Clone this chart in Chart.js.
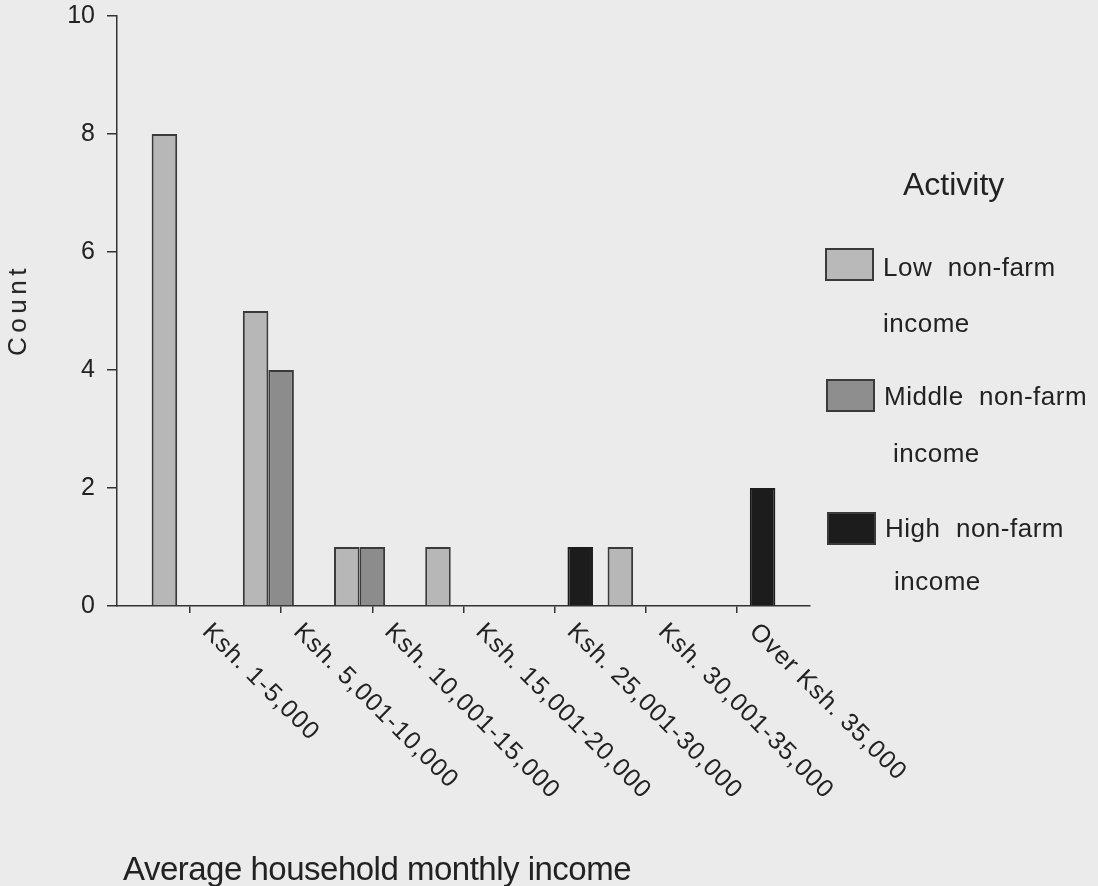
<!DOCTYPE html>
<html>
<head>
<meta charset="utf-8">
<title>Average household monthly income by activity</title>
<script src="https://cdn.jsdelivr.net/npm/chart.js@4.4.1/dist/chart.umd.min.js"></script>
<style>
    html, body { margin: 0; padding: 0; background: #ebebeb; }
    body {
        width: 1098px; height: 886px; position: relative; overflow: hidden;
        font-family: "Liberation Sans", Arial, sans-serif; color: #222;
    }
    #chartCanvas { position: absolute; left: 0; top: 0; }
    .txt { position: absolute; white-space: pre; line-height: 1; }
    .swatch { position: absolute; width: 49px; height: 33px; border: 2px solid #3a3a3a; box-sizing: border-box; }
    #yTitle {
        left: 17px; top: 310px; font-size: 26px; letter-spacing: 4.5px;
        transform: translate(-50%, -50%) rotate(-90deg);
    }
    #xTitle { left: 123px; top: 852px; font-size: 33px; letter-spacing: -0.5px; }
    #legendTitle { left: 903px; top: 168px; font-size: 32px; }
    .legend-label { font-size: 26px; letter-spacing: 0.5px; }
</style>
</head>
<body>
<canvas id="chartCanvas" width="1098" height="886"></canvas>

<div class="txt" id="yTitle">Count</div>
<div class="txt" id="xTitle">Average household monthly income</div>

<div class="txt" id="legendTitle">Activity</div>
<div class="swatch" style="left:825px; top:248px; background:#b9b9b9;"></div>
<div class="txt legend-label" style="left:883px; top:254px;">Low  non-farm</div>
<div class="txt legend-label" style="left:883px; top:310px;">income</div>
<div class="swatch" style="left:826px; top:379px; background:#8e8e8e;"></div>
<div class="txt legend-label" style="left:884px; top:383px;">Middle  non-farm</div>
<div class="txt legend-label" style="left:893px; top:440px;">income</div>
<div class="swatch" style="left:827px; top:512px; background:#1c1c1c;"></div>
<div class="txt legend-label" style="left:885px; top:515px;">High  non-farm</div>
<div class="txt legend-label" style="left:894px; top:568px;">income</div>

<script>
// Income bands on the x axis
const categories = [
    'Ksh. 1-5,000',
    'Ksh. 5,001-10,000',
    'Ksh. 10,001-15,000',
    'Ksh. 15,001-20,000',
    'Ksh. 25,001-30,000',
    'Ksh. 30,001-35,000',
    'Over Ksh. 35,000'
];

// Counts per activity group (null = no bar)
const lowNonFarm    = [8, 5, 1, 1, null, 1, null];
const middleNonFarm = [null, 4, 1, null, null, null, null];
const highNonFarm   = [null, null, null, null, 1, null, 2];

const yTicks = [0, 2, 4, 6, 8, 10];

function toPoints(values) {
    return values.map((v, i) => ({ x: i, y: v }));
}

// Slanted category labels, reading down to the right from each tick
const slantedLabels = {
    id: 'slantedLabels',
    afterDraw(chart) {
        const ctx = chart.ctx;
        const xScale = chart.scales.x;
        const base = chart.chartArea.bottom;
        ctx.save();
        ctx.font = '25px "Liberation Sans", Arial, sans-serif';
        ctx.fillStyle = '#222';
        ctx.textAlign = 'left';
        ctx.textBaseline = 'top';
        if ('letterSpacing' in ctx) ctx.letterSpacing = '1px';
        categories.forEach((label, i) => {
            const x = xScale.getPixelForValue(i);
            ctx.save();
            ctx.translate(x + 25, base + 13);
            ctx.rotate(Math.PI / 4);
            ctx.fillText(label, 0, 0);
            ctx.restore();
        });
        ctx.restore();
    }
};

const ctx = document.getElementById('chartCanvas').getContext('2d');
const chart = new Chart(ctx, {
    type: 'bar',
    data: {
        datasets: [{
            label: 'Low non-farm income',
            data: toPoints(lowNonFarm),
            backgroundColor: '#b7b7b7',
            borderColor: '#3a3a3a',
            borderWidth: 2
        }, {
            label: 'Middle non-farm income',
            data: toPoints(middleNonFarm),
            backgroundColor: '#8c8c8c',
            borderColor: '#3a3a3a',
            borderWidth: 2
        }, {
            label: 'High non-farm income',
            data: toPoints(highNonFarm),
            backgroundColor: '#1c1c1c',
            borderColor: '#1c1c1c',
            borderWidth: 2
        }]
    },
    options: {
        responsive: false,
        animation: false,
        devicePixelRatio: 1,
        categoryPercentage: 0.84,
        barPercentage: 1.0,
        layout: {
            padding: { top: 16, right: 288, bottom: 0, left: 0 }
        },
        plugins: {
            legend: { display: false },
            tooltip: { enabled: false }
        },
        scales: {
            x: {
                type: 'linear',
                min: -0.8,
                max: 6.8,
                offset: false,
                afterBuildTicks: function(scale) {
                    scale.ticks = categories.map((c, i) => ({ value: i }));
                },
                afterFit: function(scale) {
                    scale.height = 280;
                },
                ticks: { display: false },
                grid: {
                    offset: false,
                    drawOnChartArea: false,
                    drawTicks: true,
                    tickLength: 7,
                    color: '#333',
                    lineWidth: 1.5
                },
                border: { display: true, color: '#333', width: 1.5 }
            },
            y: {
                min: 0,
                max: 10,
                afterBuildTicks: function(scale) {
                    scale.ticks = yTicks.map(v => ({ value: v }));
                },
                afterFit: function(scale) {
                    scale.width = 117;
                },
                ticks: {
                    color: '#222',
                    padding: 12,
                    font: { family: '"Liberation Sans", Arial, sans-serif', size: 25, lineHeight: 0.3 }
                },
                grid: {
                    drawOnChartArea: false,
                    drawTicks: true,
                    tickLength: 10,
                    color: '#333',
                    lineWidth: 1.5
                },
                border: { display: true, color: '#333', width: 1.5 }
            }
        }
    },
    plugins: [slantedLabels]
});
</script>
</body>
</html>
